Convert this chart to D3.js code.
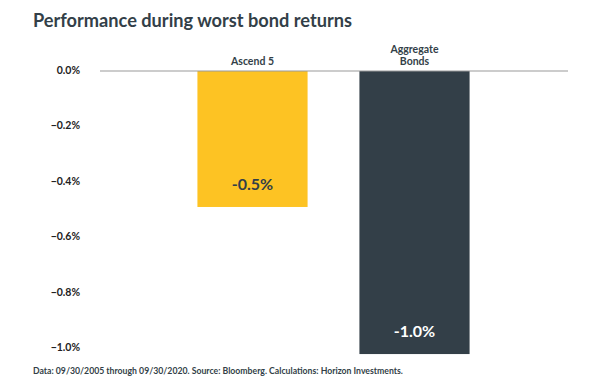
<!DOCTYPE html>
<html>
<head>
<meta charset="utf-8">
<script src="https://cdn.jsdelivr.net/npm/d3@7"></script>
<style>
  body { margin: 0; background: #fff; }
  svg { display: block; font-family: Lato, 'Open Sans', sans-serif; }
</style>
</head>
<body>
<svg id="chart" width="600" height="392"></svg>
<script>
const categories = ['Ascend 5', 'Aggregate Bonds'];
const labelLines = [['Ascend 5'], ['Aggregate', 'Bonds']];
const values = [-0.49, -1.02];
const valueLabels = ['-0.5%', '-1.0%'];
const tickValues = [0, -0.2, -0.4, -0.6, -0.8, -1.0];
const colors = ['#FDC323', '#333F48'];
const labelColors = ['#333F48', '#ffffff'];

const svg = d3.select('#chart');
const ink = '#333F48';

svg.append('text')
  .attr('x', 33).attr('y', 27)
  .attr('fill', ink)
  .attr('font-size', 18.2)
  .attr('font-weight', 700)
  .text('Performance during worst bond returns');

const y = d3.scaleLinear().domain([0, -1]).range([71, 348.5]);
const x = d3.scaleBand()
  .domain(categories)
  .range([171.5, 495.5])
  .paddingInner(0.32)
  .paddingOuter(0.16);

// tick labels
const yAxis = svg.append('g')
  .attr('transform', 'translate(80,0)')
  .call(d3.axisLeft(y).tickValues(tickValues).tickSize(0).tickPadding(0)
    .tickFormat(d => d3.format('.1f')(d) + '%'));
yAxis.select('.domain').remove();
yAxis.selectAll('text')
  .attr('dy', '0.22em')
  .attr('fill', '#222')
  .attr('font-size', 10.5)
  .attr('font-weight', 700)
  .attr('font-family', 'Lato, sans-serif');

// bars
svg.append('g')
  .selectAll('rect')
  .data(values)
  .join('rect')
  .attr('x', (d, i) => x(categories[i]))
  .attr('y', y(0))
  .attr('width', x.bandwidth())
  .attr('height', d => y(d) - y(0))
  .attr('fill', (d, i) => colors[i]);

// zero line
svg.append('line')
  .attr('x1', 100).attr('x2', 568)
  .attr('y1', y(0)).attr('y2', y(0))
  .attr('stroke', '#999').attr('stroke-width', 1);

// category labels
labelLines.forEach((lines, i) => {
  const t = svg.append('text')
    .attr('x', x(categories[i]) + x.bandwidth() / 2)
    .attr('y', y(0) - 6 - (lines.length - 1) * 12)
    .attr('text-anchor', 'middle')
    .attr('fill', ink)
    .attr('font-size', 10.5)
    .attr('font-weight', 700);
  lines.forEach((l, j) => {
    t.append('tspan')
      .attr('x', x(categories[i]) + x.bandwidth() / 2)
      .attr('dy', j === 0 ? 0 : 12)
      .text(l);
  });
});

// value labels
svg.append('g')
  .selectAll('text')
  .data(values)
  .join('text')
  .attr('x', (d, i) => x(categories[i]) + x.bandwidth() / 2)
  .attr('y', d => y(d) - 17)
  .attr('text-anchor', 'middle')
  .attr('fill', (d, i) => labelColors[i])
  .attr('font-size', 16)
  .attr('font-weight', 700)
  .text((d, i) => valueLabels[i]);

svg.append('text')
  .attr('x', 33).attr('y', 374)
  .attr('fill', ink)
  .attr('font-size', 8.7)
  .attr('font-weight', 700)
  .text('Data: 09/30/2005 through 09/30/2020. Source: Bloomberg. Calculations: Horizon Investments.');
</script>
</body>
</html>
